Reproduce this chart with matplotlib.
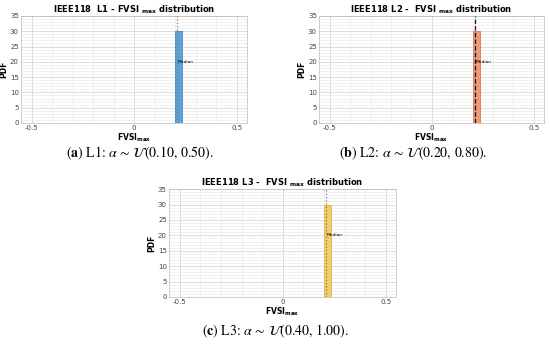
import numpy as np
import matplotlib
matplotlib.use('Agg')
import matplotlib.pyplot as plt

plt.rcParams['font.family'] = ['DejaVu Sans']
plt.rcParams['mathtext.fontset'] = 'dejavusans'

# data
labels = ['L1', 'L2', 'L3']
titles = ['IEEE118  L1 - FVSI $_{\\mathregular{max}}$ distribution',
          'IEEE118 L2 -  FVSI $_{\\mathregular{max}}$ distribution',
          'IEEE118 L3 -  FVSI $_{\\mathregular{max}}$ distribution']
bin_left = [0.200, 0.203, 0.200]
bin_width = [0.033, 0.033, 0.033]
pdf_height = [30, 30, 30]
median = [0.207, 0.212, 0.210]
captions = [('a', 'L1', '0.10', '0.50'), ('b', 'L2', '0.20', '0.80'), ('c', 'L3', '0.40', '1.00')]
face = ['#5da3d8', '#ec9a7c', '#f3cd6a']
edge = ['#2f7fbf', '#d9683c', '#e0ad2c']
med_color = ['#777777', '#111111', '#777777']
med_style = [':', '--', ':']
xticks = [-0.5, 0, 0.5]
yticks = [0, 5, 10, 15, 20, 25, 30, 35]

fig = plt.figure(figsize=(5.5, 3.48), dpi=100)
rects = [[0.038, 0.6466, 0.411, 0.3075],
         [0.580, 0.6466, 0.409, 0.3075],
         [0.307, 0.1466, 0.413, 0.3100]]

for i in range(3):
    ax = fig.add_axes(rects[i])
    ax.set_facecolor('white')
    ax.bar(bin_left[i], pdf_height[i], width=bin_width[i], align='edge',
           color=face[i], edgecolor=edge[i], linewidth=0.5, zorder=3)
    ax.plot([median[i], median[i]], [0, 35], color=med_color[i], linestyle=med_style[i],
            linewidth=0.9, zorder=4)
    ax.text(median[i] + 0.003, 20, 'Median', fontsize=3.2, va='center', zorder=5)
    ax.set_xlim(-0.553, 0.55)
    ax.set_ylim(0, 35)
    ax.set_xticks(xticks)
    ax.set_xticklabels(['-0.5', '0', '0.5'])
    ax.set_yticks(yticks)
    ax.set_xticks(np.arange(-0.5, 0.51, 0.1), minor=True)
    ax.set_yticks(np.arange(0, 36, 1), minor=True)
    ax.grid(True, which='major', color='#cfcfcf', linewidth=0.5, zorder=0)
    ax.grid(True, which='minor', color='#e6e6e6', linewidth=0.4, zorder=0)
    ax.tick_params(which='both', length=0, labelsize=5, colors='#444444', pad=1.5)
    for s in ax.spines.values():
        s.set_color('#bbbbbb')
        s.set_linewidth(0.5)
    ax.set_title(titles[i], fontsize=6, fontweight='bold', pad=2)
    ax.set_ylabel('PDF', fontsize=5.5, fontweight='bold', labelpad=1)
    ax.set_xlabel('FVSI$_{\\mathregular{max}}$', fontsize=5.5, fontweight='bold', labelpad=0)

cap_pos = [(140, 153), (413, 153), (275, 331)]
for (letter, lab, lo, hi), (px, py) in zip(captions, cap_pos):
    fig.text(px / 550, 1 - py / 348,
             r'($\mathbf{' + letter + r'}$) ' + lab + r': $\alpha\,\sim\,\mathcal{U}(' + lo + r',\,' + hi + r')$.',
             fontsize=10, ha='center', va='center', family='STIXGeneral',
             math_fontfamily='stix')

fig.savefig('out.png', dpi=100)
